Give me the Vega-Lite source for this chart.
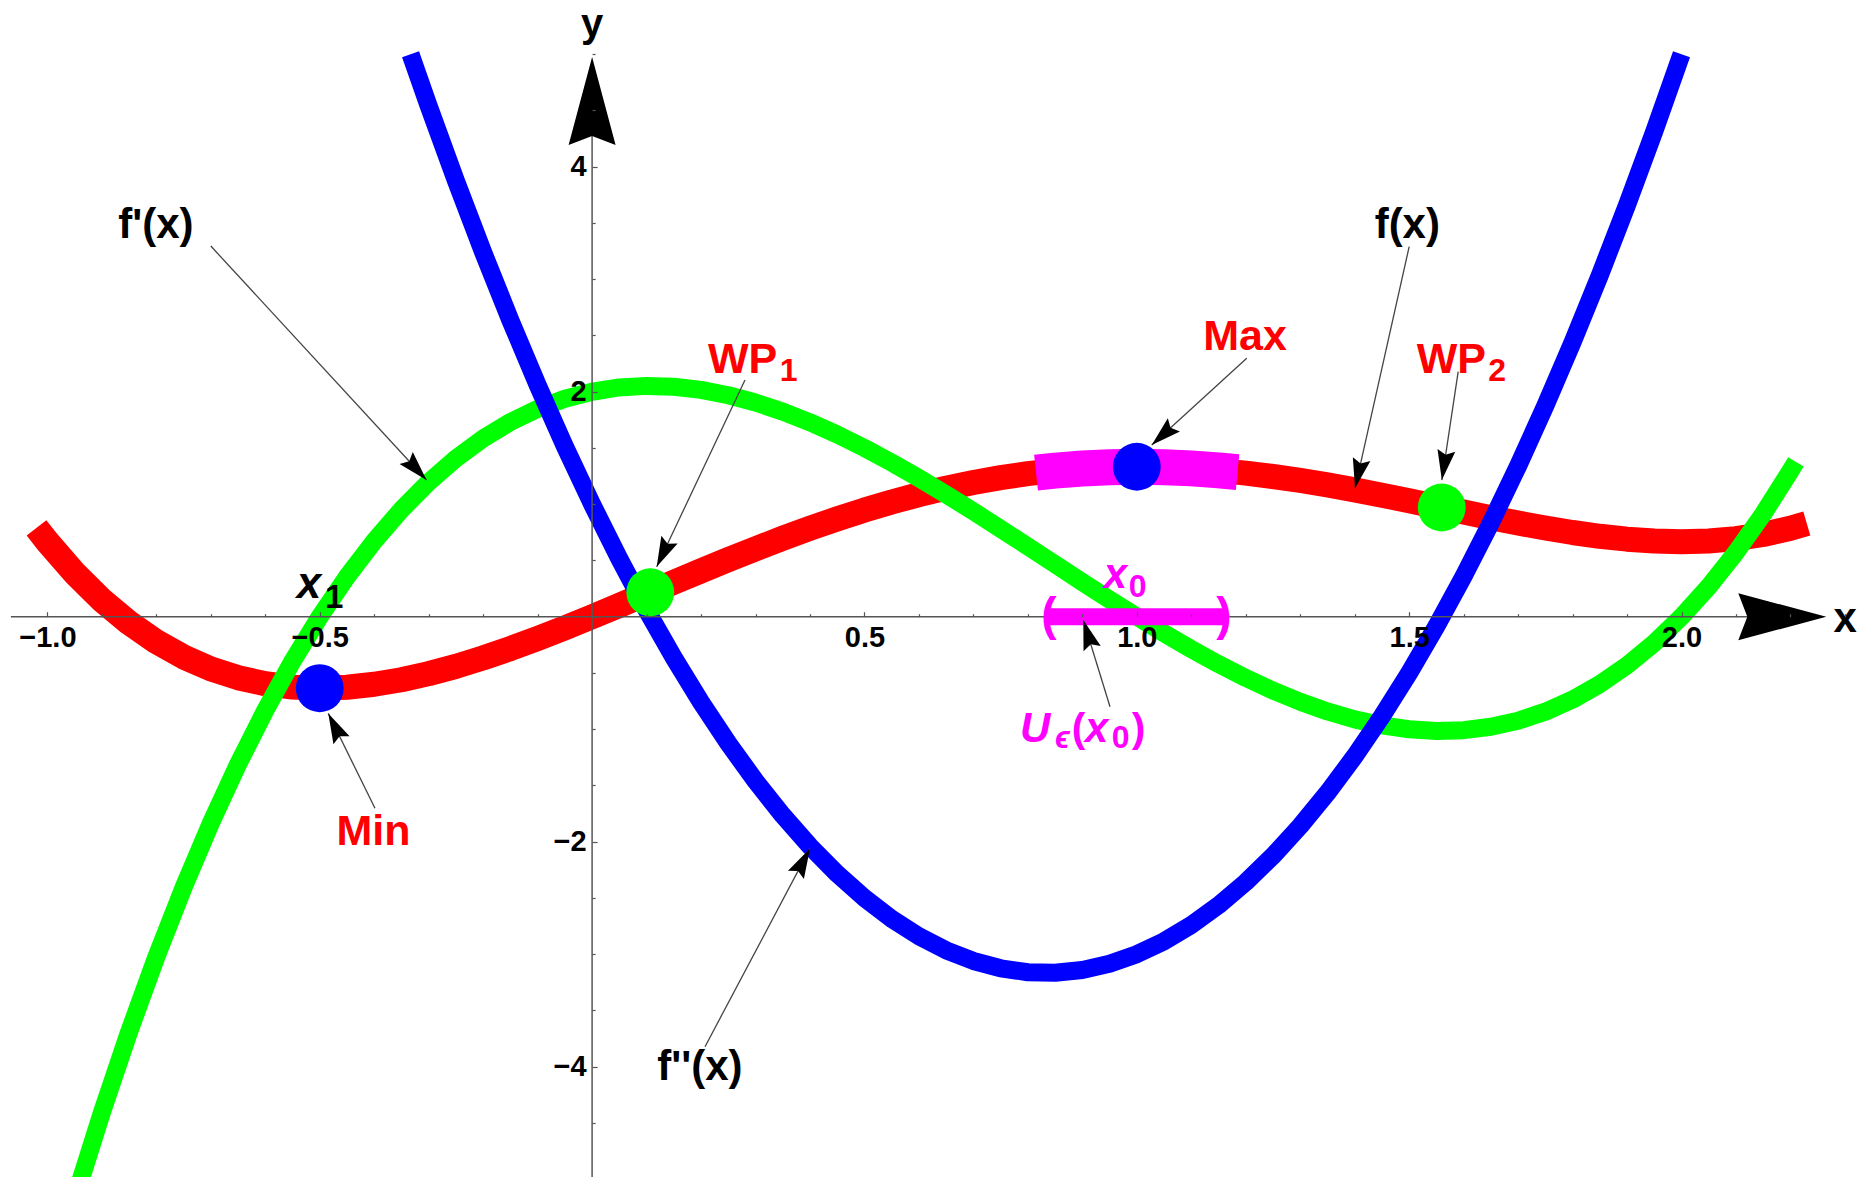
{
  "$schema": "https://vega.github.io/schema/vega-lite/v6.json",
  "width": 1858,
  "height": 1177,
  "autosize": {"type": "none"},
  "padding": 0,
  "background": "white",
  "config": {
    "view": {"stroke": null},
    "text": {"font": "Liberation Sans", "fontWeight": "bold"}
  },
  "datasets": {
    "f": [
      {"x": -1.02, "y": 0.7901},
      {"x": -1.0, "y": 0.6667}, {"x": -0.95, "y": 0.3875}, {"x": -0.9, "y": 0.1481}, {"x": -0.85, "y": -0.0542},
      {"x": -0.8, "y": -0.2219}, {"x": -0.75, "y": -0.3574}, {"x": -0.7, "y": -0.4633}, {"x": -0.65, "y": -0.5418},
      {"x": -0.6, "y": -0.5952}, {"x": -0.55, "y": -0.6257}, {"x": -0.5, "y": -0.6354}, {"x": -0.45, "y": -0.6264},
      {"x": -0.4, "y": -0.6005}, {"x": -0.35, "y": -0.5598}, {"x": -0.3, "y": -0.506}, {"x": -0.25, "y": -0.4408},
      {"x": -0.2, "y": -0.3659}, {"x": -0.15, "y": -0.2829}, {"x": -0.1, "y": -0.1933}, {"x": -0.05, "y": -0.0985},
      {"x": 0.0, "y": 0.0}, {"x": 0.05, "y": 0.101}, {"x": 0.1, "y": 0.2034}, {"x": 0.15, "y": 0.3059},
      {"x": 0.2, "y": 0.4075}, {"x": 0.25, "y": 0.5072}, {"x": 0.3, "y": 0.6041}, {"x": 0.35, "y": 0.6973},
      {"x": 0.4, "y": 0.7861}, {"x": 0.45, "y": 0.8699}, {"x": 0.5, "y": 0.9479}, {"x": 0.55, "y": 1.0197},
      {"x": 0.6, "y": 1.0848}, {"x": 0.65, "y": 1.1428}, {"x": 0.7, "y": 1.1934}, {"x": 0.75, "y": 1.2363},
      {"x": 0.8, "y": 1.2715}, {"x": 0.85, "y": 1.2987}, {"x": 0.9, "y": 1.3181}, {"x": 0.95, "y": 1.3295},
      {"x": 1.0, "y": 1.3333}, {"x": 1.05, "y": 1.3296}, {"x": 1.1, "y": 1.3187}, {"x": 1.15, "y": 1.301},
      {"x": 1.2, "y": 1.2768}, {"x": 1.25, "y": 1.2467}, {"x": 1.3, "y": 1.2114}, {"x": 1.35, "y": 1.1714},
      {"x": 1.4, "y": 1.1275}, {"x": 1.45, "y": 1.0805}, {"x": 1.5, "y": 1.0313}, {"x": 1.55, "y": 0.9808},
      {"x": 1.6, "y": 0.9301}, {"x": 1.65, "y": 0.8804}, {"x": 1.7, "y": 0.8327}, {"x": 1.75, "y": 0.7884},
      {"x": 1.8, "y": 0.7488}, {"x": 1.85, "y": 0.7153}, {"x": 1.9, "y": 0.6894}, {"x": 1.95, "y": 0.6726},
      {"x": 2.0, "y": 0.6667}, {"x": 2.05, "y": 0.6732}, {"x": 2.1, "y": 0.6941}, {"x": 2.15, "y": 0.731},
      {"x": 2.2, "y": 0.7861}, {"x": 2.23, "y": 0.8287}
    ],
    "fp": [
      {"x": -0.95, "y": -5.1773}, {"x": -0.9, "y": -4.408}, {"x": -0.85, "y": -3.6908}, {"x": -0.8, "y": -3.024},
      {"x": -0.75, "y": -2.4063}, {"x": -0.7, "y": -1.836}, {"x": -0.65, "y": -1.3118}, {"x": -0.6, "y": -0.832},
      {"x": -0.55, "y": -0.3953}, {"x": -0.5, "y": 0.0}, {"x": -0.45, "y": 0.3553}, {"x": -0.4, "y": 0.672},
      {"x": -0.35, "y": 0.9518}, {"x": -0.3, "y": 1.196}, {"x": -0.25, "y": 1.4063}, {"x": -0.2, "y": 1.584},
      {"x": -0.15, "y": 1.7308}, {"x": -0.1, "y": 1.848}, {"x": -0.05, "y": 1.9373}, {"x": 0.0, "y": 2.0},
      {"x": 0.05, "y": 2.0378}, {"x": 0.1, "y": 2.052}, {"x": 0.15, "y": 2.0443}, {"x": 0.2, "y": 2.016},
      {"x": 0.25, "y": 1.9688}, {"x": 0.3, "y": 1.904}, {"x": 0.35, "y": 1.8233}, {"x": 0.4, "y": 1.728},
      {"x": 0.45, "y": 1.6198}, {"x": 0.5, "y": 1.5}, {"x": 0.55, "y": 1.3703}, {"x": 0.6, "y": 1.232},
      {"x": 0.65, "y": 1.0868}, {"x": 0.7, "y": 0.936}, {"x": 0.75, "y": 0.7813}, {"x": 0.8, "y": 0.624},
      {"x": 0.85, "y": 0.4658}, {"x": 0.9, "y": 0.308}, {"x": 0.95, "y": 0.1523}, {"x": 1.0, "y": 0.0},
      {"x": 1.05, "y": -0.1473}, {"x": 1.1, "y": -0.288}, {"x": 1.15, "y": -0.4208}, {"x": 1.2, "y": -0.544},
      {"x": 1.25, "y": -0.6563}, {"x": 1.3, "y": -0.756}, {"x": 1.35, "y": -0.8418}, {"x": 1.4, "y": -0.912},
      {"x": 1.45, "y": -0.9653}, {"x": 1.5, "y": -1.0}, {"x": 1.55, "y": -1.0148}, {"x": 1.6, "y": -1.008},
      {"x": 1.65, "y": -0.9783}, {"x": 1.7, "y": -0.924}, {"x": 1.75, "y": -0.8438}, {"x": 1.8, "y": -0.736},
      {"x": 1.85, "y": -0.5993}, {"x": 1.9, "y": -0.432}, {"x": 1.95, "y": -0.2328}, {"x": 2.0, "y": 0.0},
      {"x": 2.05, "y": 0.2678}, {"x": 2.1, "y": 0.572}, {"x": 2.15, "y": 0.9143}, {"x": 2.2, "y": 1.296},
      {"x": 2.21, "y": 1.3772}
    ],
    "fpp": [
      {"x": -0.3333, "y": 5.0}, {"x": -0.3, "y": 4.54}, {"x": -0.25, "y": 3.875}, {"x": -0.2, "y": 3.24},
      {"x": -0.15, "y": 2.635}, {"x": -0.1, "y": 2.06}, {"x": -0.05, "y": 1.515}, {"x": 0.0, "y": 1.0},
      {"x": 0.05, "y": 0.515}, {"x": 0.1, "y": 0.06}, {"x": 0.15, "y": -0.365}, {"x": 0.2, "y": -0.76},
      {"x": 0.25, "y": -1.125}, {"x": 0.3, "y": -1.46}, {"x": 0.35, "y": -1.765}, {"x": 0.4, "y": -2.04},
      {"x": 0.45, "y": -2.285}, {"x": 0.5, "y": -2.5}, {"x": 0.55, "y": -2.685}, {"x": 0.6, "y": -2.84},
      {"x": 0.65, "y": -2.965}, {"x": 0.7, "y": -3.06}, {"x": 0.75, "y": -3.125}, {"x": 0.8, "y": -3.16},
      {"x": 0.85, "y": -3.165}, {"x": 0.9, "y": -3.14}, {"x": 0.95, "y": -3.085}, {"x": 1.0, "y": -3.0},
      {"x": 1.05, "y": -2.885}, {"x": 1.1, "y": -2.74}, {"x": 1.15, "y": -2.565}, {"x": 1.2, "y": -2.36},
      {"x": 1.25, "y": -2.125}, {"x": 1.3, "y": -1.86}, {"x": 1.35, "y": -1.565}, {"x": 1.4, "y": -1.24},
      {"x": 1.45, "y": -0.885}, {"x": 1.5, "y": -0.5}, {"x": 1.55, "y": -0.085}, {"x": 1.6, "y": 0.36},
      {"x": 1.65, "y": 0.835}, {"x": 1.7, "y": 1.34}, {"x": 1.75, "y": 1.875}, {"x": 1.8, "y": 2.44},
      {"x": 1.85, "y": 3.035}, {"x": 1.9, "y": 3.66}, {"x": 1.95, "y": 4.315}, {"x": 2.0, "y": 5.0}
    ],
    "nbhd": [
      {"x": 0.815, "y": 1.2805}, {"x": 0.85, "y": 1.2987}, {"x": 0.9, "y": 1.3181}, {"x": 0.95, "y": 1.3295},
      {"x": 1.0, "y": 1.3333}, {"x": 1.05, "y": 1.3296}, {"x": 1.1, "y": 1.3187}, {"x": 1.15, "y": 1.301},
      {"x": 1.185, "y": 1.2847}
    ],
    "points": [
      {"name": "Min", "kind": "Extremum", "x": -0.5, "y": -0.6354},
      {"name": "Max", "kind": "Extremum", "x": 1.0, "y": 1.3333},
      {"name": "WP1", "kind": "Wendepunkt", "x": 0.1068, "y": 0.2173},
      {"name": "WP2", "kind": "Wendepunkt", "x": 1.5598, "y": 0.9709}
    ],
    "arrows": [
      {"name": "f1", "x": -0.7, "y": 3.295, "x2": -0.304, "y2": 1.215},
      {"name": "f0", "x": 1.5, "y": 3.289, "x2": 1.4006, "y2": 1.141},
      {"name": "wp2", "x": 1.59, "y": 2.178, "x2": 1.56, "y2": 1.215},
      {"name": "wp1", "x": 0.2807, "y": 2.104, "x2": 0.1186, "y2": 0.444},
      {"name": "max", "x": 1.2018, "y": 2.297, "x2": 1.0274, "y2": 1.526},
      {"name": "min", "x": -0.3986, "y": -1.703, "x2": -0.4843, "y2": -0.859},
      {"name": "f2", "x": 0.2073, "y": -3.822, "x2": 0.4, "y2": -2.059},
      {"name": "u", "x": 0.9508, "y": -0.8, "x2": 0.9018, "y2": -0.029}
    ]
  },
  "layer": [
    {
      "data": {"name": "f"},
      "mark": {"type": "line", "color": "#ff0000", "strokeWidth": 25, "strokeCap": "butt", "strokeJoin": "round"},
      "encoding": {
        "x": {
          "field": "x", "type": "quantitative",
          "scale": {"domain": [-1.087, 2.324], "nice": false, "zero": false},
          "axis": {
            "orient": "top", "offset": -616.7, "domain": false, "grid": false, "title": null, "zindex": 1,
            "values": [-1.0, -0.9, -0.8, -0.7, -0.6, -0.5, -0.4, -0.3, -0.2, -0.1, 0.0, 0.1, 0.2, 0.3, 0.4, 0.5, 0.6, 0.7, 0.8, 0.9, 1.0, 1.1, 1.2, 1.3, 1.4, 1.5, 1.6, 1.7, 1.8, 1.9, 2.0, 2.1, 2.2, 2.3],
            "format": ".1f",
            "labelExpr": "abs(datum.value * 2 - round(datum.value * 2)) < 1e-6 && abs(datum.value) > 1e-6 ? datum.label : ''",
            "tickSize": {"condition": {"test": "abs(datum.value * 2 - round(datum.value * 2)) < 1e-6", "value": 5}, "value": 3},
            "tickColor": "#555555", "tickWidth": 1.2,
            "labelFont": "Liberation Sans", "labelFontWeight": "bold", "labelFontSize": 29, "labelColor": "black",
            "labelPadding": -35, "labelBaseline": "alphabetic", "labelAlign": "center",
            "labelFlush": false, "labelOverlap": false, "labelBound": false
          }
        },
        "y": {
          "field": "y", "type": "quantitative",
          "scale": {"domain": [-4.98, 5.482], "nice": false, "zero": false},
          "axis": {
            "orient": "right", "offset": -1265.9, "domain": false, "grid": false, "title": null, "zindex": 1,
            "values": [-4.5, -4.0, -3.5, -3.0, -2.5, -2.0, -1.5, -1.0, -0.5, 0.0, 0.5, 1.0, 1.5, 2.0, 2.5, 3.0, 3.5, 4.0, 4.5, 5.0],
            "format": ".0f",
            "labelExpr": "abs(datum.value / 2 - round(datum.value / 2)) < 1e-6 && abs(datum.value) > 1e-6 ? datum.label : ''",
            "tickSize": {"condition": {"test": "abs(datum.value / 2 - round(datum.value / 2)) < 1e-6", "value": 5}, "value": 3},
            "tickColor": "#555555", "tickWidth": 1.2,
            "labelFont": "Liberation Sans", "labelFontWeight": "bold", "labelFontSize": 29, "labelColor": "black",
            "labelPadding": -11, "labelBaseline": "middle", "labelAlign": "right",
            "labelFlush": false, "labelOverlap": false, "labelBound": false
          }
        }
      }
    },
    {
      "data": {"name": "fp"},
      "mark": {"type": "line", "color": "#00ff00", "strokeWidth": 18, "strokeCap": "butt", "strokeJoin": "round"},
      "encoding": {"x": {"field": "x", "type": "quantitative"}, "y": {"field": "y", "type": "quantitative"}}
    },
    {
      "data": {"name": "fpp"},
      "mark": {"type": "line", "color": "#0000ff", "strokeWidth": 18, "strokeCap": "butt", "strokeJoin": "round"},
      "encoding": {"x": {"field": "x", "type": "quantitative"}, "y": {"field": "y", "type": "quantitative"}}
    },
    {
      "data": {"values": [{}]},
      "mark": {"type": "rule", "color": "#555555", "strokeWidth": 1.5},
      "encoding": {"x": {"datum": -1.067}, "x2": {"datum": 2.2}, "y": {"datum": 0}}
    },
    {
      "data": {"values": [{}]},
      "mark": {"type": "rule", "color": "#555555", "strokeWidth": 1.5},
      "encoding": {"y": {"datum": -4.98}, "y2": {"datum": 4.6}, "x": {"datum": 0}}
    },
    {
      "data": {"values": [{}]},
      "mark": {"type": "point", "shape": "M0,-1 L0.534,1 L0,0.795 L-0.534,1 Z", "filled": true, "color": "black", "opacity": 1, "size": 7744, "strokeWidth": 0},
      "encoding": {"x": {"datum": 0}, "y": {"datum": 4.585}}
    },
    {
      "data": {"values": [{}]},
      "mark": {"type": "point", "shape": "M0,-1 L0.534,1 L0,0.795 L-0.534,1 Z", "filled": true, "color": "black", "opacity": 1, "size": 7744, "strokeWidth": 0, "angle": 90},
      "encoding": {"x": {"datum": 2.185}, "y": {"datum": 0}}
    },
    {
      "data": {"name": "nbhd"},
      "mark": {"type": "line", "color": "#ff00ff", "strokeWidth": 36, "strokeCap": "butt", "strokeJoin": "round"},
      "encoding": {"x": {"field": "x", "type": "quantitative"}, "y": {"field": "y", "type": "quantitative"}}
    },
    {
      "data": {"values": [{"from": 0.835, "to": 1.165}]},
      "mark": {"type": "rule", "color": "#ff00ff", "strokeWidth": 17, "strokeCap": "butt"},
      "encoding": {"x": {"field": "from", "type": "quantitative"}, "x2": {"field": "to"}, "y": {"datum": 0}}
    },
    {
      "data": {"values": [{"label": "(", "x": 0.8388, "y": -0.122}, {"label": ")", "x": 1.1601, "y": -0.122}]},
      "mark": {"type": "text", "fontSize": 46, "align": "center", "baseline": "alphabetic", "color": "#ff00ff"},
      "encoding": {"x": {"field": "x", "type": "quantitative"}, "y": {"field": "y", "type": "quantitative"}, "text": {"field": "label"}}
    },
    {
      "data": {"name": "arrows"},
      "mark": {"type": "rule", "color": "#444444", "strokeWidth": 1.3},
      "encoding": {
        "x": {"field": "x", "type": "quantitative"}, "y": {"field": "y", "type": "quantitative"},
        "x2": {"field": "x2"}, "y2": {"field": "y2"}
      }
    },
    {
      "data": {"name": "points"},
      "mark": {"type": "circle", "size": 2290, "opacity": 1},
      "encoding": {
        "x": {"field": "x", "type": "quantitative"}, "y": {"field": "y", "type": "quantitative"},
        "color": {"field": "kind", "type": "nominal", "scale": {"domain": ["Extremum", "Wendepunkt"], "range": ["#0000ff", "#00ff00"]}, "legend": null}
      }
    },
    {
      "data": {"name": "arrows"}, "transform": [{"filter": "datum.name === 'f1'"}],
      "mark": {"type": "point", "shape": "M0,0 L0.6,2 L0,1.7 L-0.6,2 Z", "filled": true, "color": "black", "opacity": 1, "size": 900, "strokeWidth": 0, "angle": 137.3},
      "encoding": {"x": {"field": "x2", "type": "quantitative"}, "y": {"field": "y2", "type": "quantitative"}}
    },
    {
      "data": {"name": "arrows"}, "transform": [{"filter": "datum.name === 'f0'"}],
      "mark": {"type": "point", "shape": "M0,0 L0.6,2 L0,1.7 L-0.6,2 Z", "filled": true, "color": "black", "opacity": 1, "size": 900, "strokeWidth": 0, "angle": 192.7},
      "encoding": {"x": {"field": "x2", "type": "quantitative"}, "y": {"field": "y2", "type": "quantitative"}}
    },
    {
      "data": {"name": "arrows"}, "transform": [{"filter": "datum.name === 'wp2'"}],
      "mark": {"type": "point", "shape": "M0,0 L0.6,2 L0,1.7 L-0.6,2 Z", "filled": true, "color": "black", "opacity": 1, "size": 900, "strokeWidth": 0, "angle": 188.7},
      "encoding": {"x": {"field": "x2", "type": "quantitative"}, "y": {"field": "y2", "type": "quantitative"}}
    },
    {
      "data": {"name": "arrows"}, "transform": [{"filter": "datum.name === 'wp1'"}],
      "mark": {"type": "point", "shape": "M0,0 L0.6,2 L0,1.7 L-0.6,2 Z", "filled": true, "color": "black", "opacity": 1, "size": 900, "strokeWidth": 0, "angle": 205.3},
      "encoding": {"x": {"field": "x2", "type": "quantitative"}, "y": {"field": "y2", "type": "quantitative"}}
    },
    {
      "data": {"name": "arrows"}, "transform": [{"filter": "datum.name === 'max'"}],
      "mark": {"type": "point", "shape": "M0,0 L0.6,2 L0,1.7 L-0.6,2 Z", "filled": true, "color": "black", "opacity": 1, "size": 900, "strokeWidth": 0, "angle": 227.6},
      "encoding": {"x": {"field": "x2", "type": "quantitative"}, "y": {"field": "y2", "type": "quantitative"}}
    },
    {
      "data": {"name": "arrows"}, "transform": [{"filter": "datum.name === 'min'"}],
      "mark": {"type": "point", "shape": "M0,0 L0.6,2 L0,1.7 L-0.6,2 Z", "filled": true, "color": "black", "opacity": 1, "size": 900, "strokeWidth": 0, "angle": 333.8},
      "encoding": {"x": {"field": "x2", "type": "quantitative"}, "y": {"field": "y2", "type": "quantitative"}}
    },
    {
      "data": {"name": "arrows"}, "transform": [{"filter": "datum.name === 'f2'"}],
      "mark": {"type": "point", "shape": "M0,0 L0.6,2 L0,1.7 L-0.6,2 Z", "filled": true, "color": "black", "opacity": 1, "size": 900, "strokeWidth": 0, "angle": 27.9},
      "encoding": {"x": {"field": "x2", "type": "quantitative"}, "y": {"field": "y2", "type": "quantitative"}}
    },
    {
      "data": {"name": "arrows"}, "transform": [{"filter": "datum.name === 'u'"}],
      "mark": {"type": "point", "shape": "M0,0 L0.6,2 L0,1.7 L-0.6,2 Z", "filled": true, "color": "black", "opacity": 1, "size": 900, "strokeWidth": 0, "angle": 342.9},
      "encoding": {"x": {"field": "x2", "type": "quantitative"}, "y": {"field": "y2", "type": "quantitative"}}
    },
    {
      "data": {"values": [
        {"label": "f'(x)", "x": -0.8008, "y": 3.364},
        {"label": "f(x)", "x": 1.4966, "y": 3.366},
        {"label": "f''(x)", "x": 0.1979, "y": -4.118}
      ]},
      "mark": {"type": "text", "fontSize": 42, "align": "center", "baseline": "alphabetic", "color": "black"},
      "encoding": {"x": {"field": "x", "type": "quantitative"}, "y": {"field": "y", "type": "quantitative"}, "text": {"field": "label"}}
    },
    {
      "data": {"values": [{"label": "y", "x": 0.0, "y": 5.157}]},
      "mark": {"type": "text", "fontSize": 40, "align": "center", "baseline": "alphabetic", "color": "black"},
      "encoding": {"x": {"field": "x", "type": "quantitative"}, "y": {"field": "y", "type": "quantitative"}, "text": {"field": "label"}}
    },
    {
      "data": {"values": [{"label": "x", "x": 2.279, "y": -0.133}]},
      "mark": {"type": "text", "fontSize": 42, "align": "left", "baseline": "alphabetic", "color": "black"},
      "encoding": {"x": {"field": "x", "type": "quantitative"}, "y": {"field": "y", "type": "quantitative"}, "text": {"field": "label"}}
    },
    {
      "data": {"values": [
        {"label": "Max", "x": 1.1987, "y": 2.371},
        {"label": "Min", "x": -0.4015, "y": -2.029}
      ]},
      "mark": {"type": "text", "fontSize": 43, "align": "center", "baseline": "alphabetic", "color": "#ff0000"},
      "encoding": {"x": {"field": "x", "type": "quantitative"}, "y": {"field": "y", "type": "quantitative"}, "text": {"field": "label"}}
    },
    {
      "data": {"values": [
        {"label": "WP", "x": 0.2128, "y": 2.164},
        {"label": "WP", "x": 1.5139, "y": 2.164}
      ]},
      "mark": {"type": "text", "fontSize": 43, "align": "left", "baseline": "alphabetic", "color": "#ff0000"},
      "encoding": {"x": {"field": "x", "type": "quantitative"}, "y": {"field": "y", "type": "quantitative"}, "text": {"field": "label"}}
    },
    {
      "data": {"values": [
        {"label": "1", "x": 0.3445, "y": 2.095},
        {"label": "2", "x": 1.645, "y": 2.095}
      ]},
      "mark": {"type": "text", "fontSize": 32, "align": "left", "baseline": "alphabetic", "color": "#ff0000"},
      "encoding": {"x": {"field": "x", "type": "quantitative"}, "y": {"field": "y", "type": "quantitative"}, "text": {"field": "label"}}
    },
    {
      "data": {"values": [{"label": "x", "x": -0.5423, "y": 0.1636}]},
      "mark": {"type": "text", "fontSize": 44, "fontStyle": "italic", "align": "left", "baseline": "alphabetic", "color": "black"},
      "encoding": {"x": {"field": "x", "type": "quantitative"}, "y": {"field": "y", "type": "quantitative"}, "text": {"field": "label"}}
    },
    {
      "data": {"values": [{"label": "1", "x": -0.4903, "y": 0.0747}]},
      "mark": {"type": "text", "fontSize": 33, "align": "left", "baseline": "alphabetic", "color": "black"},
      "encoding": {"x": {"field": "x", "type": "quantitative"}, "y": {"field": "y", "type": "quantitative"}, "text": {"field": "label"}}
    },
    {
      "data": {"values": [
        {"label": "x", "x": 0.9393, "y": 0.2524},
        {"label": "U", "x": 0.7857, "y": -1.111},
        {"label": "x", "x": 0.9049, "y": -1.111}
      ]},
      "mark": {"type": "text", "fontSize": 42, "fontStyle": "italic", "align": "left", "baseline": "alphabetic", "color": "#ff00ff"},
      "encoding": {"x": {"field": "x", "type": "quantitative"}, "y": {"field": "y", "type": "quantitative"}, "text": {"field": "label"}}
    },
    {
      "data": {"values": [
        {"label": "0", "x": 0.9852, "y": 0.1778},
        {"label": "0", "x": 0.9539, "y": -1.168}
      ]},
      "mark": {"type": "text", "fontSize": 32, "align": "left", "baseline": "alphabetic", "color": "#ff00ff"},
      "encoding": {"x": {"field": "x", "type": "quantitative"}, "y": {"field": "y", "type": "quantitative"}, "text": {"field": "label"}}
    },
    {
      "data": {"values": [{"label": "ϵ", "x": 0.8498, "y": -1.168}]},
      "mark": {"type": "text", "fontSize": 31, "fontStyle": "italic", "align": "left", "baseline": "alphabetic", "color": "#ff00ff"},
      "encoding": {"x": {"field": "x", "type": "quantitative"}, "y": {"field": "y", "type": "quantitative"}, "text": {"field": "label"}}
    },
    {
      "data": {"values": [
        {"label": "(", "x": 0.8805, "y": -1.111},
        {"label": ")", "x": 0.9906, "y": -1.111}
      ]},
      "mark": {"type": "text", "fontSize": 41, "align": "left", "baseline": "alphabetic", "color": "#ff00ff"},
      "encoding": {"x": {"field": "x", "type": "quantitative"}, "y": {"field": "y", "type": "quantitative"}, "text": {"field": "label"}}
    }
  ]
}
